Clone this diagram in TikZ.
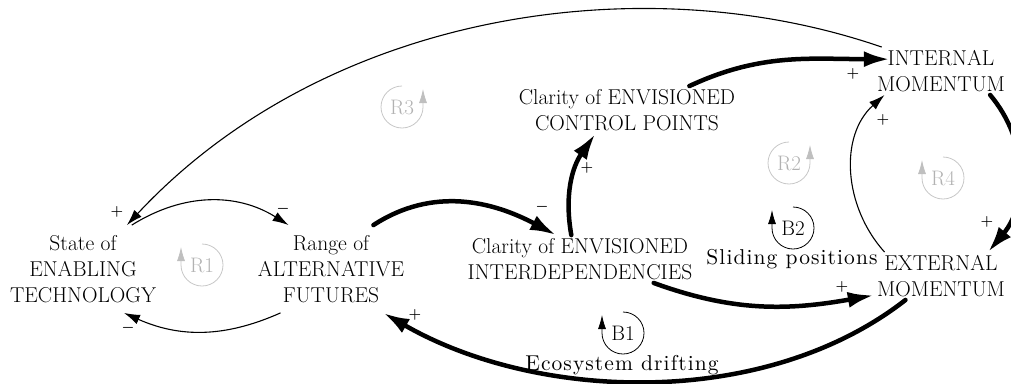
\documentclass[tikz,border=0pt]{standalone}
\usepackage{fontspec}
\newfontfamily\spacedfont{lmroman10-regular.otf}[LetterSpace=5]
\usetikzlibrary{arrows.meta}

\tikzset{
  var/.style={align=center,inner sep=3pt,font=\fontsize{21.5}{26}\selectfont},
  link/.style={-{Latex[length=16pt,width=10pt]},line width=1.1pt},
  mainlink/.style={-{Latex[length=26pt,width=16pt]},line width=4.5pt,line cap=round},
  sign/.style={inner sep=0pt,font=\fontsize{15}{15}\selectfont\boldmath},
  rloop/.style={inner sep=0pt,text=black!30,font=\fontsize{21}{21}\selectfont},
  bloop/.style={inner sep=0pt,text=black,font=\fontsize{21}{21}\selectfont},
  rarc/.style={draw=black!22,line width=0.8pt,-{Latex[length=14pt,width=8pt,fill=black!25,color=black!25]}},
  barc/.style={draw=black,line width=0.8pt,-{Latex[length=14pt,width=8pt]}},
  loopname/.style={inner sep=0pt,font=\spacedfont\fontsize{21.5}{26}\selectfont}
}

\begin{document}
\begin{tikzpicture}[x=1pt,y=1pt]
\useasboundingbox (0,0) rectangle (1011,-383);
% variables
\node[var,inner sep=10pt] (state) at (83,-269) {State of\\ENABLING\\TECHNOLOGY};
\node[var,inner sep=10pt] (range) at (331,-269) {Range of\\ALTERNATIVE\\FUTURES};
\node[var] (interdep) at (580,-259) {Clarity of ENVISIONED\\INTERDEPENDENCIES};
\node[var] (control) at (627,-110) {Clarity of ENVISIONED\\CONTROL POINTS};
\node[var] (internal) at (941,-71) {INTERNAL\\MOMENTUM};
\node[var] (external) at (941,-276) {EXTERNAL\\MOMENTUM};
% loops
\node[rloop] (r1) at (202,-265) {R1};
\node[rloop] (r2) at (789,-163) {R2};
\node[rloop] (r3) at (402,-107) {R3};
\node[rloop] (r4) at (943,-178) {R4};
\node[bloop] (b1) at (623,-333) {B1};
\node[bloop] (b2) at (793,-228) {B2};
\node[loopname,anchor=base] (drift) at (622,-370) {Ecosystem drifting};
\node[loopname,anchor=base] (sliding) at (792,-264) {Sliding positions};
\draw[rarc] ([yshift=21pt]r1.center) arc[start angle=90,end angle=-180,radius=21pt] -- ++(0,18);
\draw[rarc] ([yshift=21pt]r2.center) arc[start angle=90,end angle=360,radius=21pt] -- ++(0,18);
\draw[rarc] ([yshift=21pt]r3.center) arc[start angle=90,end angle=360,radius=21pt] -- ++(0,18);
\draw[rarc] ([yshift=21pt]r4.center) arc[start angle=90,end angle=-180,radius=21pt] -- ++(0,18);
\draw[barc] ([yshift=21pt]b1.center) arc[start angle=90,end angle=-180,radius=21pt] -- ++(0,18);
\draw[barc] ([yshift=21pt]b2.center) arc[start angle=90,end angle=-180,radius=21pt] -- ++(0,18);
% signs
\node[sign] (m1) at (283,-209) {$-$};
\node[sign] (m2) at (128,-328) {$-$};
\node[sign] (p1) at (117,-212) {$+$};
\node[sign] (m3) at (542,-207) {$-$};
\node[sign] (p2) at (587,-168) {$+$};
\node[sign] (p3) at (853,-74) {$+$};
\node[sign] (p4) at (987,-222) {$+$};
\node[sign] (p5) at (883,-120) {$+$};
\node[sign] (p6) at (842,-287) {$+$};
\node[sign] (p7) at (415,-315) {$+$};
% links
\path[link] (state.42) edge[out=32,in=148] (range.134);
\path[link] (range.221) edge[out=204,in=-24] (state.313);
\path[link] (internal.158) edge[out=161,in=47,out distance=255pt,in distance=290pt] (state.45);
\path[mainlink] (range.46) edge[out=33,in=152] (interdep.135);
\path[mainlink] (interdep.110) edge[out=100,in=235] (control.217);
\path[mainlink] (control.21) edge[out=25,in=180] ([xshift=16pt]internal.170);
\path[mainlink] (internal.-26) edge[out=-50,in=50] (external.27);
\path[link] (external.157) edge[out=132,in=222] (internal.203);
\path[mainlink] (interdep.-18) edge[out=-20,in=190] (external.196);
\path[mainlink] (external.214) edge[out=218,in=-30,looseness=0.87] (range.320);
\end{tikzpicture}
\end{document}
